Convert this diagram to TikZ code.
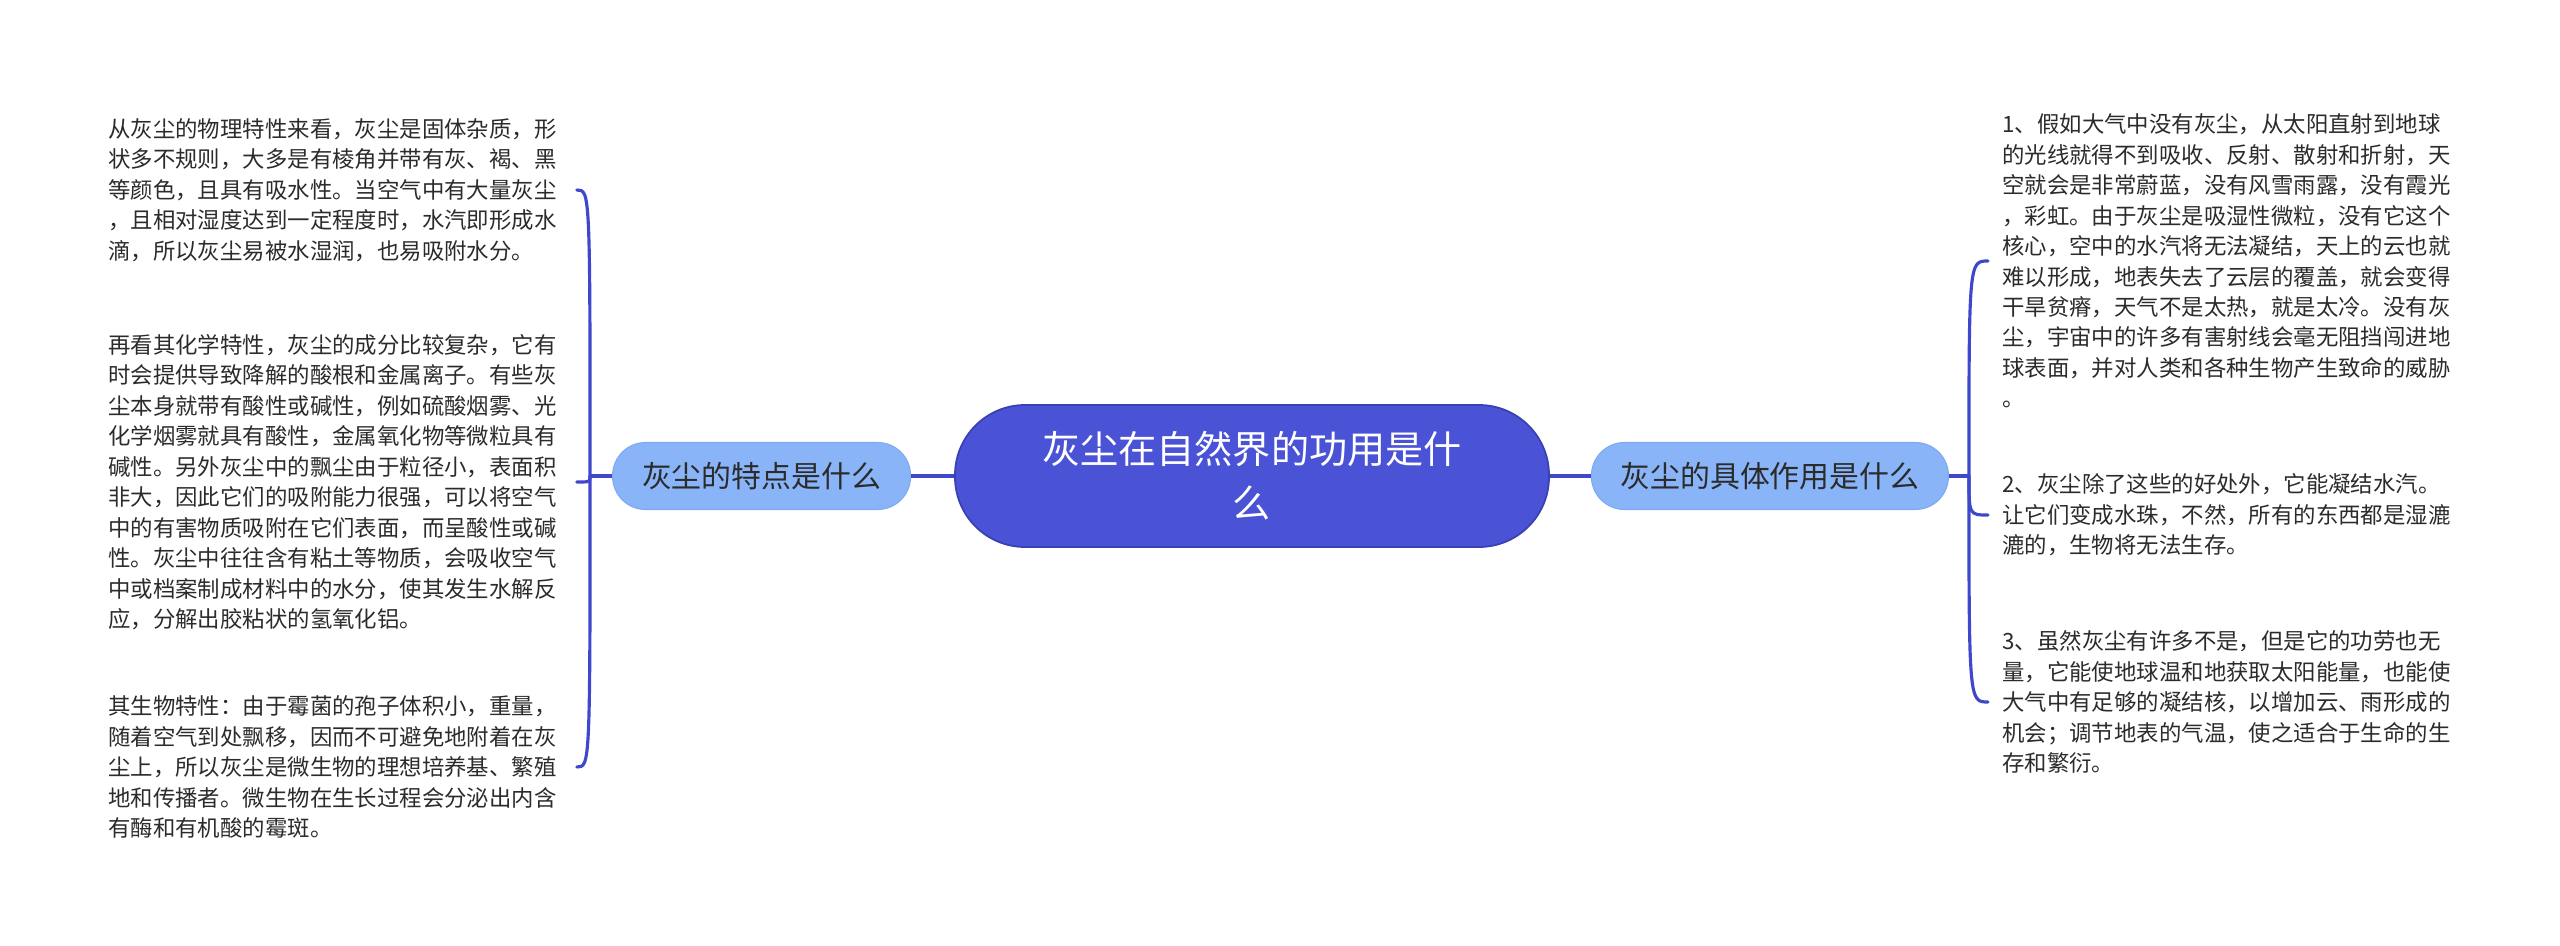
\documentclass[tikz,border=0pt]{standalone}
\usepackage{fontspec}
\setmainfont{Noto Sans CJK SC}
\usepackage{tikz}
\usetikzlibrary{positioning}
\definecolor{topicB}{HTML}{4A52D6}
\definecolor{topicD}{HTML}{3A41B2}
\definecolor{branchB}{HTML}{8AB4F8}
\definecolor{branchD}{HTML}{7EA9F0}
\definecolor{linkB}{HTML}{3F48CC}
\definecolor{inkG}{HTML}{2B2B2B}

\begin{document}
\begin{tikzpicture}[
   topic/.style={minimum width=11.88cm, minimum height=2.84cm, align=center,
                 rounded corners=1.4cm, draw=topicD, line width=1pt, fill=topicB,
                 text=white, font=\fontsize{21.7}{30.7}\selectfont},
   branch/.style={minimum height=1.34cm, rounded corners=0.66cm, draw=branchD,
                  line width=0.6pt, fill=branchB, text=inkG,
                  font=\fontsize{17}{20}\selectfont},
   leaf/.style={align=left, inner sep=0pt, text=inkG,
                font=\fontsize{12.75}{17.35}\selectfont},
   link/.style={draw=linkB, line width=1.8pt}]
  \useasboundingbox (0,0) rectangle (51.2,-18.9);
  % centre and the two branches
  \node[topic] (topic) at (25.04,-9.52) {灰尘在自然界的功用是什\\么};
  \node[branch, minimum width=5.96cm, left=0.86cm of topic] (spot) {灰尘的特点是什么};
  \node[branch, minimum width=7.14cm, right=0.82cm of topic] (use) {灰尘的具体作用是什么};
  \coordinate[left=0.44cm of spot] (lj);
  \coordinate[right=0.4cm of use] (rj);
  % left leaves
  \node[leaf, anchor=west] (l1) at (2.16,-3.8) {从灰尘的物理特性来看，灰尘是固体杂质，形\\
    状多不规则，大多是有棱角并带有灰、褐、黑\\
    等颜色，且具有吸水性。当空气中有大量灰尘\\
    ，且相对湿度达到一定程度时，水汽即形成水\\
    滴，所以灰尘易被水湿润，也易吸附水分。};
  \node[leaf, anchor=west] (l2) at (2.16,-9.64) {再看其化学特性，灰尘的成分比较复杂，它有\\
    时会提供导致降解的酸根和金属离子。有些灰\\
    尘本身就带有酸性或碱性，例如硫酸烟雾、光\\
    化学烟雾就具有酸性，金属氧化物等微粒具有\\
    碱性。另外灰尘中的飘尘由于粒径小，表面积\\
    非大，因此它们的吸附能力很强，可以将空气\\
    中的有害物质吸附在它们表面，而呈酸性或碱\\
    性。灰尘中往往含有粘土等物质，会吸收空气\\
    中或档案制成材料中的水分，使其发生水解反\\
    应，分解出胶粘状的氢氧化铝。};
  \node[leaf, anchor=west] (l3) at (2.16,-15.34) {其生物特性：由于霉菌的孢子体积小，重量，\\
    随着空气到处飘移，因而不可避免地附着在灰\\
    尘上，所以灰尘是微生物的理想培养基、繁殖\\
    地和传播者。微生物在生长过程会分泌出内含\\
    有酶和有机酸的霉斑。};
  % right leaves
  \node[leaf, anchor=west] (r1) at (40.04,-5.22) {1、假如大气中没有灰尘，从太阳直射到地球\\
    的光线就得不到吸收、反射、散射和折射，天\\
    空就会是非常蔚蓝，没有风雪雨露，没有霞光\\
    ，彩虹。由于灰尘是吸湿性微粒，没有它这个\\
    核心，空中的水汽将无法凝结，天上的云也就\\
    难以形成，地表失去了云层的覆盖，就会变得\\
    干旱贫瘠，天气不是太热，就是太冷。没有灰\\
    尘，宇宙中的许多有害射线会毫无阻挡闯进地\\
    球表面，并对人类和各种生物产生致命的威胁\\
    。};
  \node[leaf, anchor=west] (r2) at (40.04,-10.3) {2、灰尘除了这些的好处外，它能凝结水汽。\\
    让它们变成水珠，不然，所有的东西都是湿漉\\
    漉的，生物将无法生存。};
  \node[leaf, anchor=west] (r3) at (40.04,-14.04) {3、虽然灰尘有许多不是，但是它的功劳也无\\
    量，它能使地球温和地获取太阳能量，也能使\\
    大气中有足够的凝结核，以增加云、雨形成的\\
    机会；调节地表的气温，使之适合于生命的生\\
    存和繁衍。};
  % connectors
  \draw[link] (topic) -- (spot);
  \draw[link] (topic) -- (use);
  \draw[link] (spot) -- (lj);
  \draw[link] (use) -- (rj);
  \foreach \n in {l1,l2,l3} {
    \coordinate (\n-end) at ([xshift=0.4cm]\n.east);
    \draw[link, line cap=round] (lj) .. controls (lj |- \n-end) .. (\n-end);
  }
  \foreach \n in {r1,r2,r3} {
    \coordinate (\n-end) at ([xshift=-0.28cm]\n.west);
    \draw[link, line cap=round] (rj) .. controls (rj |- \n-end) .. (\n-end);
  }
\end{tikzpicture}
\end{document}
